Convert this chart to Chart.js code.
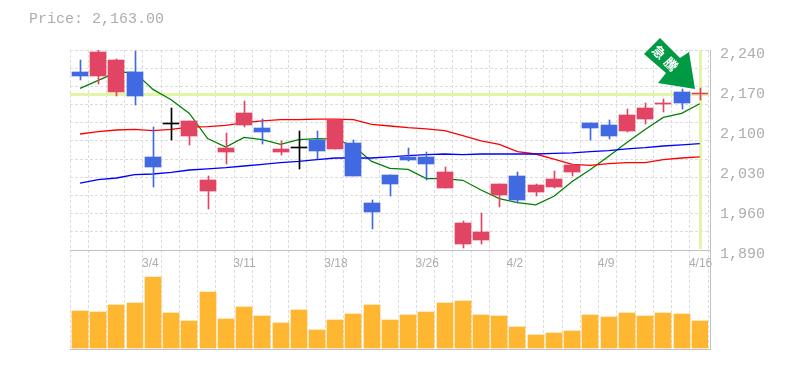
<!DOCTYPE html>
<html><head><meta charset="utf-8">
<style>html,body{margin:0;padding:0;background:#fff}canvas{display:block}</style>
<script src="https://cdn.jsdelivr.net/npm/chart.js@4"></script>
</head><body><canvas id="c" width="785" height="370"></canvas>
<script>
const dates = ['2/27','2/28','2/29','3/1','3/4','3/5','3/6','3/7','3/8','3/11','3/12','3/13','3/14','3/15','3/18','3/19','3/21','3/22','3/25','3/26','3/27','3/28','3/29','4/1','4/2','4/3','4/4','4/5','4/8','4/9','4/10','4/11','4/12','4/15','4/16'];
const dateTicks = ['3/4','3/11','3/18','3/26','4/2','4/9','4/16'];
const priceTicks = [1890,1960,2030,2100,2170,2240];
const lastPrice = 2163;
const titleText = 'Price: 2,163.00';
const badgeText = ['急','騰'];
const opens  = [2201,2195,2166,2202,2052,2110,2090,1994,2061,2109,2104,2061,2069,2083,2066,2078,1973,2022,2052,2052,1999,1900,1908,1987,2020,1991,2001,2026,2113,2108,2099,2120,2145,2167,2163];
const closes = [2194,2237,2223,2159,2036,2110,2115,2012,2068,2129,2096,2066,2069,2064,2117,2020,1956,2005,2048,2040,2027,1938,1922,2005,1977,2003,2015,2038,2104,2089,2127,2139,2148,2148,2163];
const highs  = [2222,2240,2225,2239,2106,2139,2115,2020,2094,2150,2120,2080,2099,2099,2117,2083,1978,2022,2069,2062,2036,1940,1954,2005,2026,2006,2029,2040,2113,2117,2136,2148,2155,2171,2174];
const lows   = [2188,2181,2159,2143,2001,2083,2073,1961,2041,2106,2076,2057,2031,2050,2066,2020,1926,1984,2045,2012,1998,1893,1901,1966,1973,1984,1999,2019,2082,2085,2097,2111,2131,2136,2152];
const maShort = [2173,2187,2201,2201,2171,2153,2129,2085,2070,2087,2083,2075,2083,2085,2084,2072,2045,2033,2031,2015,2015,2012,1995,1980,1973,1969,1984,2010,2031,2054,2078,2101,2122,2129,2146];
const maMid   = [2093,2097,2100,2101,2099,2101,2105,2106,2108,2113,2116,2118,2118,2119,2119,2118,2110,2107,2104,2102,2099,2090,2081,2075,2062,2058,2049,2040,2038,2041,2043,2043,2048,2051,2053];
const maLong  = [2007,2013,2016,2022,2023,2026,2030,2032,2034,2037,2040,2043,2045,2048,2051,2051,2051,2053,2055,2057,2058,2057,2058,2058,2058,2058,2059,2060,2062,2064,2067,2069,2072,2074,2076];
const volumes = [37000,36000,43000,45000,71000,35000,27000,56000,29000,41000,32000,25000,38000,18000,28000,34000,43000,28000,33000,36000,45000,47000,33000,32000,21000,13000,15000,17000,33000,31000,35000,32000,35000,34000,27000];

const RED='#e24463', BLUE='#4169e1', BLACK='#000000', AMBER='#ffb732', TXT='#adadad', GRID='#dcdcdc', HILITE='#e2f4a6';
const candleColors = opens.map((o,i)=> closes[i]>o ? RED : closes[i]<o ? BLUE : (i===opens.length-1 ? RED : BLACK));
const gridLevels = Array.from({length:10},(_,k)=>2240-(k+1)*350/11);
const monoFont = '"Liberation Mono", monospace';

const snap = {
  id:'snap',
  afterDatasetsUpdate(chart){
    chart.data.datasets.forEach((ds,di)=>{
      const meta = chart.getDatasetMeta(di);
      meta.data.forEach(el=>{
        if(ds.type==='bar'){
          el.x = ds.wick ? Math.round(el.x+0.9)+0.5 : Math.round(el.x+0.9);
          el.y = Math.round(el.y);
          el.base = Math.round(el.base);
          if(el.y===el.base) el.base = el.y+1;
          el.height = el.base-el.y;
        } else {
          el.x = el.x+0.9;
        }
      });
    });
  }
};
const deco = {
  id:'deco',
  beforeDatasetsDraw(chart){
    const {ctx,chartArea:a,scales:{x,y}} = chart;
    const lx = Math.round(x.getPixelForValue(dates.length-1)+0.9)+0.5, ly = Math.round(y.getPixelForValue(lastPrice))+0.5;
    ctx.save();
    ctx.strokeStyle=HILITE; ctx.lineWidth=3;
    ctx.beginPath(); ctx.moveTo(a.left,ly); ctx.lineTo(a.right+1,ly);
    ctx.moveTo(lx,a.top+1); ctx.lineTo(lx,y.bottom-1); ctx.stroke();
    ctx.strokeStyle='#c0c0c0'; ctx.lineWidth=1;
    ctx.beginPath();
    ctx.moveTo(a.left,y.bottom+0.5); ctx.lineTo(a.right+3,y.bottom+0.5);
    ctx.moveTo(a.left,a.bottom+0.5); ctx.lineTo(a.right+3,a.bottom+0.5);
    ctx.moveTo(a.right+2.5,a.top); ctx.lineTo(a.right+2.5,a.bottom+1);
    ctx.stroke();
    ctx.restore();
  },
  afterDraw(chart){
    const {ctx,scales:{x,y}} = chart;
    const lx = Math.round(x.getPixelForValue(dates.length-1)+0.9), ly = Math.round(y.getPixelForValue(lastPrice));
    ctx.save();
    ctx.fillStyle=TXT; ctx.font='15px '+monoFont; ctx.textAlign='left'; ctx.textBaseline='alphabetic';
    ctx.fillText(titleText,29,23);
    ctx.translate(lx,ly);
    ctx.fillStyle='#009944';
    ctx.beginPath();
    [[-56,-40],[-40,-56],[-20,-36],[-11,-42],[-5,-5],[-42,-11],[-34,-21]].forEach((p,i)=>i?ctx.lineTo(p[0],p[1]):ctx.moveTo(p[0],p[1]));
    ctx.closePath(); ctx.fill();
    ctx.fillStyle='#ffffff'; ctx.font='bold 13px "Noto Sans CJK JP"'; ctx.textAlign='center'; ctx.textBaseline='middle';
    ctx.save(); ctx.translate(-41,-42); ctx.rotate(Math.PI/4); ctx.fillText(badgeText[0],0,0); ctx.restore();
    ctx.save(); ctx.translate(-29,-30); ctx.rotate(Math.PI/4); ctx.fillText(badgeText[1],0,0); ctx.restore();
    ctx.restore();
  }
};
const line=(data,color)=>({type:'line',data,yAxisID:'y',borderColor:color,borderWidth:1.3,pointRadius:0,tension:0,fill:false,order:3,clip:false});
new Chart(document.getElementById('c'),{
  data:{labels:dates,datasets:[
    {type:'bar',data:volumes,yAxisID:'yVol',backgroundColor:AMBER,barThickness:16,grouped:false,order:4},
    line(maLong,'#0000ff'),line(maMid,'#ff0000'),line(maShort,'#008000'),
    {type:'bar',wick:true,data:lows.map((l,i)=>[l,highs[i]]),yAxisID:'y',backgroundColor:candleColors,barThickness:1,grouped:false,order:2},
    {type:'bar',data:opens.map((o,i)=>[o,closes[i]]),yAxisID:'y',backgroundColor:candleColors,barThickness:16,grouped:false,order:1,minBarLength:1}
  ]},
  options:{
    responsive:false,animation:false,
    layout:{padding:{left:70,top:50,right:0,bottom:21}},
    plugins:{legend:{display:false},title:{display:false},tooltip:{enabled:false}},
    scales:{
      x:{type:'category',position:{y:1890},offset:true,
        grid:{display:true,offset:true,color:GRID,lineWidth:1,drawTicks:false},
        border:{display:false,dash:[3,2]},
        ticks:{autoSkip:false,maxRotation:0,minRotation:0,align:'start',labelOffset:-10,padding:6,color:TXT,
          font:{family:'"Liberation Sans"',size:12},
          callback(v,i){const s=dates[i];return dateTicks.includes(s)?s:'';}}},
      y:{type:'linear',position:'right',stack:'p',stackWeight:200,min:1890,max:2240,
        afterFit(s){s.width=77;},
        afterBuildTicks(s){s.ticks=[...priceTicks,...gridLevels].sort((a,b)=>a-b).map(value=>({value}));},
        grid:{drawTicks:false,lineWidth:1,color(c){const v=c.tick&&c.tick.value;return (v===1890||v===1960||v===2030||v===2100||v===2170)?'rgba(0,0,0,0)':GRID;}},
        border:{display:false,dash:[3,2]},
        ticks:{autoSkip:false,padding:12,labelOffset:4,color:TXT,font:{family:monoFont,size:15},
          callback(v){return priceTicks.includes(v)?v.toLocaleString('en-US'):'';}}},
      yVol:{type:'linear',position:'right',stack:'p',stackWeight:99,min:-1500,max:97500,
        afterFit(s){s.width=77;},
        grid:{display:false},border:{display:false},ticks:{display:false}}
    }
  },
  plugins:[snap,deco]
});
</script></body></html>
